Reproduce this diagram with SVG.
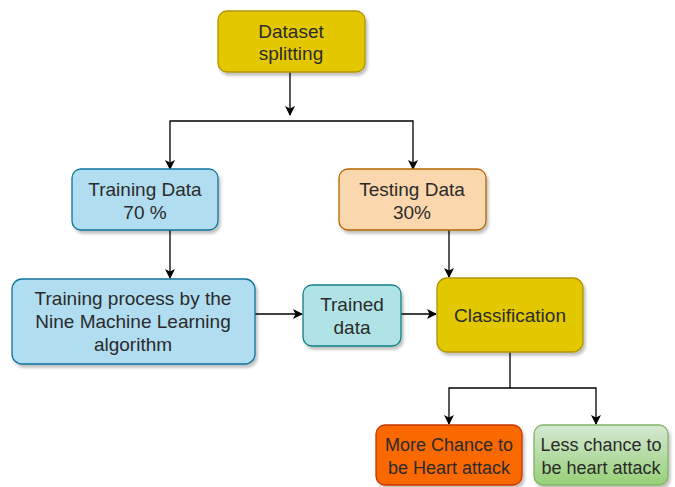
<svg xmlns="http://www.w3.org/2000/svg" width="675" height="487" viewBox="0 0 675 487">
  <defs>
    <filter id="shadow" x="-10%" y="-10%" width="130%" height="140%">
      <feGaussianBlur in="SourceAlpha" stdDeviation="1.6"/>
      <feOffset dx="2" dy="3" result="b"/>
      <feComponentTransfer><feFuncA type="linear" slope="0.25"/></feComponentTransfer>
      <feMerge><feMergeNode/><feMergeNode in="SourceGraphic"/></feMerge>
    </filter>
    <linearGradient id="green" x1="0" y1="0" x2="0" y2="1">
      <stop offset="0" stop-color="#d5e8d4"/>
      <stop offset="1" stop-color="#97d077"/>
    </linearGradient>
    <marker id="arrow" viewBox="0 0 10 10" refX="9" refY="5" markerWidth="10" markerHeight="10" markerUnits="userSpaceOnUse" orient="auto">
      <path d="M0,0 L10,5 L0,10 L2.5,5 Z" fill="#000"/>
    </marker>
  </defs>
  <style>
    .box { stroke-width: 1.3; filter: url(#shadow); }
    .lbl { font-family: "Liberation Sans", Arial, sans-serif; font-size: 19px; fill: #2b2b2b; text-anchor: middle; }
    .sm { font-size: 18px; }
    .edge { fill: none; stroke: #000; stroke-width: 1.3; marker-end: url(#arrow); }
  </style>

  <g id="connectors">
    <path class="edge" d="M290,72 V115"/>
    <path class="edge" d="M290,121 H170 V169"/>
    <path class="edge" d="M290,121 H413 V169"/>
    <path class="edge" d="M170,230 V278"/>
    <path class="edge" d="M449,230 V277"/>
    <path class="edge" d="M255,314 H302"/>
    <path class="edge" d="M401,314 H436"/>
    <path class="edge" d="M510,352 V388 H449 V424"/>
    <path class="edge" d="M510,388 H596 V424"/>
  </g>

  <g id="dataset-splitting">
    <rect class="box" x="218" y="11" width="147" height="61" rx="9" fill="#e3c800" stroke="#b09500"/>
    <text class="lbl" x="291" y="38">Dataset</text>
    <text class="lbl" x="291" y="60">splitting</text>
  </g>

  <g id="training-data">
    <rect class="box" x="72" y="169" width="146" height="61" rx="9" fill="#b1ddf0" stroke="#10739e"/>
    <text class="lbl" x="145" y="196">Training Data</text>
    <text class="lbl" x="145" y="219">70 %</text>
  </g>

  <g id="testing-data">
    <rect class="box" x="339" y="169" width="147" height="61" rx="9" fill="#fad7ac" stroke="#b46504"/>
    <text class="lbl" x="412" y="196">Testing Data</text>
    <text class="lbl" x="412" y="219">30%</text>
  </g>

  <g id="training-process">
    <rect class="box" x="12" y="279" width="243" height="85" rx="10" fill="#b1ddf0" stroke="#10739e"/>
    <text class="lbl" x="133" y="305">Training process by the</text>
    <text class="lbl" x="133" y="328">Nine Machine Learning</text>
    <text class="lbl" x="133" y="351">algorithm</text>
  </g>

  <g id="trained-data">
    <rect class="box" x="303" y="285" width="98" height="61" rx="9" fill="#b0e3e6" stroke="#0e8088"/>
    <text class="lbl" x="352" y="311">Trained</text>
    <text class="lbl" x="352" y="334">data</text>
  </g>

  <g id="classification">
    <rect class="box" x="437" y="278" width="146" height="74" rx="10" fill="#e3c800" stroke="#b09500"/>
    <text class="lbl" x="510" y="322">Classification</text>
  </g>

  <g id="more-chance">
    <rect class="box" x="376" y="425" width="146" height="60" rx="9" fill="#fa6800" stroke="#c73500"/>
    <text class="lbl sm" x="449" y="451">More Chance to</text>
    <text class="lbl sm" x="449" y="474">be Heart attack</text>
  </g>

  <g id="less-chance">
    <rect class="box" x="534" y="425" width="134" height="60" rx="9" fill="url(#green)" stroke="#82b366"/>
    <text class="lbl sm" x="601" y="451">Less chance to</text>
    <text class="lbl sm" x="601" y="474">be heart attack</text>
  </g>
</svg>
